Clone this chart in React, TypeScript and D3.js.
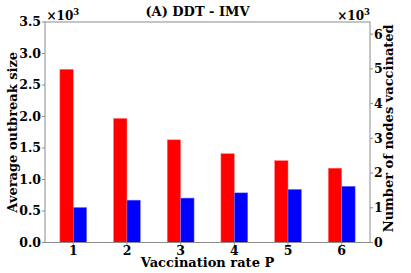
import * as d3 from 'd3'

const rates = [1, 2, 3, 4, 5, 6]
// average outbreak size (x10^3), left axis
const outbreak = [2.75, 1.97, 1.63, 1.41, 1.3, 1.18]
// number of nodes vaccinated (x10^3), right axis
const vaccinated = [1.01, 1.22, 1.28, 1.43, 1.53, 1.62]
const leftTicks = [0, 0.5, 1, 1.5, 2, 2.5, 3, 3.5]
const rightTicks = [0, 1, 2, 3, 4, 5, 6]

const W = 411
const H = 273
const m = { top: 22, right: 41, bottom: 30.5, left: 45 }
const font = "'DejaVu Serif', serif"
const spine = '#8c8c8c'
const ink = '#000'

export default function App() {
  const innerW = W - m.left - m.right
  const innerH = H - m.top - m.bottom

  const x = d3.scaleLinear().domain([0.473, 6.527]).range([0, innerW])
  const yL = d3.scaleLinear().domain([0, 3.5]).range([innerH, 0])
  const yR = d3.scaleLinear().domain([0, 6.35]).range([innerH, 0])
  const bw = x(1.25) - x(1)

  return (
    <svg
      width={W}
      height={H}
      style={{ position: 'absolute', left: 0, top: 0 }}
      fontFamily={font}
      fontWeight="bold"
    >
      <rect width={W} height={H} fill="#fff" />
      <g transform={`translate(${m.left},${m.top})`}>
        {rates.map((r, i) => (
          <g key={r}>
            <rect
              x={x(r) - bw}
              y={yL(outbreak[i])}
              width={bw}
              height={innerH - yL(outbreak[i])}
              fill="#ff0000"
              stroke="#ff8080"
              strokeWidth={0.5}
            />
            <rect
              x={x(r)}
              y={yR(vaccinated[i])}
              width={bw}
              height={innerH - yR(vaccinated[i])}
              fill="#0000ff"
              stroke="#8080ff"
              strokeWidth={0.5}
            />
          </g>
        ))}
        <rect
          x={0}
          y={0}
          width={innerW}
          height={innerH}
          fill="none"
          stroke={spine}
          strokeWidth={1}
        />
        {leftTicks.map((t) => (
          <g key={t} transform={`translate(0,${yL(t)})`}>
            <line x1={-3} x2={0} stroke={spine} />
            <text x={-4} dy="0.35em" textAnchor="end" fontSize={12.5} fill={ink}>
              {t.toFixed(1)}
            </text>
          </g>
        ))}
        {rightTicks.map((t) => (
          <g key={t} transform={`translate(${innerW},${yR(t)})`}>
            <line x1={0} x2={3} stroke={spine} />
            <text x={4} dy="0.35em" textAnchor="start" fontSize={12.5} fill={ink}>
              {t}
            </text>
          </g>
        ))}
        {rates.map((r) => (
          <g key={r} transform={`translate(${x(r)},${innerH})`}>
            <line y1={0} y2={3} stroke={spine} />
            <text y={12} textAnchor="middle" fontSize={12.5} fill={ink}>
              {r}
            </text>
          </g>
        ))}
        <text x={1.5} y={-2} fontSize={12} fill={ink}>
          ×10<tspan dy={-5} fontSize={8.5}>3</tspan>
        </text>
        <text x={innerW} y={-2} textAnchor="end" fontSize={12} fill={ink}>
          ×10<tspan dy={-5} fontSize={8.5}>3</tspan>
        </text>
      </g>
      <text x={197.5} y={16} textAnchor="middle" fontSize={13} fill={ink}>
        (A) DDT - IMV
      </text>
      <text x={207.5} y={267} textAnchor="middle" fontSize={13} fill={ink}>
        Vaccination rate P
      </text>
      <text
        transform={`translate(17,${m.top + innerH / 2}) rotate(-90)`}
        textAnchor="middle"
        fontSize={13}
        fill={ink}
      >
        Average outbreak size
      </text>
      <text
        transform={`translate(393,${m.top + innerH / 2 - 4}) rotate(-90)`}
        textAnchor="middle"
        fontSize={13}
        fill={ink}
      >
        Number of nodes vaccinated
      </text>
    </svg>
  )
}
